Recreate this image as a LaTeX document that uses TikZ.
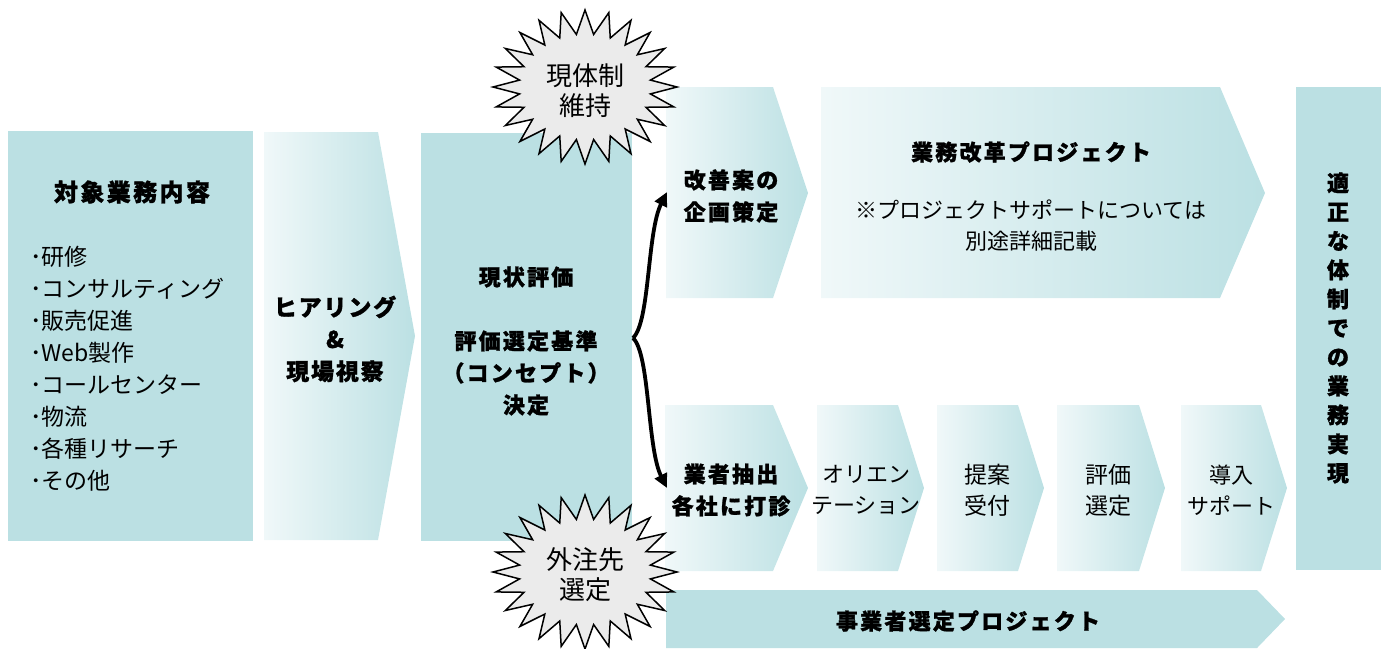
\documentclass[tikz,border=0pt]{standalone}
\usepackage{fontspec}
\newfontfamily\jp{Noto Sans CJK JP}
\usetikzlibrary{arrows.meta}
\definecolor{teal1}{RGB}{187,224,227}
\definecolor{light1}{RGB}{240,248,249}
\definecolor{burstgray}{RGB}{235,235,235}
\begin{document}
\begin{tikzpicture}[x=1pt,y=-1pt,
  solidbox/.style={fill=teal1},
  grad/.style={left color=light1,right color=teal1,shading angle=90},
  bt/.style={font=\jp\bfseries\fontsize{22}{32}\selectfont\addfontfeature{LetterSpace=10,FakeBold=1.2},align=center,inner sep=0pt},
  rt/.style={font=\jp\fontsize{22}{31}\selectfont,align=center,inner sep=0pt},
  burstline/.style={draw=black,line width=1.5pt,fill=burstgray,line join=miter},
  oneconn/.style={line width=3.8pt,-{Triangle[length=14pt,width=13pt]}}]
\useasboundingbox (0,0) rectangle (1381,648);
% left box
\fill[solidbox] (8,131) rectangle (253,541);
\node[bt,font=\jp\bfseries\fontsize{24}{32}\selectfont\addfontfeature{LetterSpace=10,FakeBold=1.2}] (target) at (132,192) {対象業務内容};
\node[rt,align=left,anchor=west,font=\jp\fontsize{23}{32}\selectfont] (list) at (30,368.5)
 {･研修\\･コンサルティング\\･販売促進\\･Web製作\\･コールセンター\\･物流\\･各種リサーチ\\･その他};
% hearing chevron
\shade[grad] (264,132) -- (378,132) -- (415,336) -- (378,540) -- (264,540) -- cycle;
\node[bt,font=\jp\bfseries\fontsize{23}{32}\selectfont\addfontfeature{LetterSpace=8,FakeBold=1.2}] (hearing) at (335,339) {ヒアリング\\\&\\現場視察};
% evaluation box
\fill[solidbox] (421,133) rectangle (632,541);
\node[bt] (eval) at (526,341) {現状評価\\[32pt]評価選定基準\\（コンセプト）\\決定};
% upper chevrons
\shade[grad] (666,87) -- (773,87) -- (808,193) -- (773,298) -- (666,298) -- cycle;
\node[bt] (kaizen) at (731,196) {改善案の\\企画策定};
\shade[grad] (821,87) -- (1220,87) -- (1265,193) -- (1220,298) -- (821,298) -- cycle;
\node[bt] (kaikaku) at (1031,152) {業務改革プロジェクト};
\node[rt] (note) at (1031,226) {※プロジェクトサポートについては\\別途詳細記載};
% right box
\fill[solidbox] (1296,87) rectangle (1381,570);
\node[bt,font=\jp\bfseries\fontsize{22}{29}\selectfont\addfontfeature{FakeBold=1.2}] (goal) at (1338,328)
 {適\\正\\な\\体\\制\\で\\の\\業\\務\\実\\現};
% lower chevrons
\shade[grad] (665,405) -- (773,405) -- (808,488) -- (773,571) -- (665,571) -- cycle;
\node[bt] (gyosha) at (731,490) {業者抽出\\各社に打診};
\shade[grad] (817,405) -- (898,405) -- (924,488) -- (898,571) -- (817,571) -- cycle;
\node[rt] (orien) at (866,490) {オリエン\\テーション};
\shade[grad] (937,405) -- (1018,405) -- (1044,488) -- (1018,571) -- (937,571) -- cycle;
\node[rt,font=\jp\fontsize{23}{31}\selectfont] (teian) at (987,490) {提案\\受付};
\shade[grad] (1057,405) -- (1139,405) -- (1165,488) -- (1139,571) -- (1057,571) -- cycle;
\node[rt,font=\jp\fontsize{23}{31}\selectfont] (hyoka) at (1108,490) {評価\\選定};
\shade[grad] (1181,405) -- (1261,405) -- (1287,488) -- (1261,571) -- (1181,571) -- cycle;
\node[rt] (donyu) at (1231,490) {導入\\サポート};
% bottom chevron
\fill[solidbox] (666,590) -- (1257,590) -- (1285,619) -- (1257,648) -- (666,648) -- cycle;
\node[bt] (jigyosha) at (968,621) {事業者選定プロジェクト};
% bursts
\draw[burstline] plot[samples at={0,7.5,...,352.5}] ({585+(79+13*cos(24*\x))*cos(\x)},{87+(65+12*cos(24*\x))*sin(\x)}) -- cycle;
\node[rt,font=\jp\fontsize{26}{30}\selectfont] (burst1) at (585,91) {現体制\\維持};
\draw[burstline] plot[samples at={0,7.5,...,352.5}] ({585+(79+13*cos(24*\x))*cos(\x)},{572+(65+12*cos(24*\x))*sin(\x)}) -- cycle;
\node[rt,font=\jp\fontsize{26}{30}\selectfont] (burst2) at (585,575) {外注先\\選定};
% connectors
\coordinate (fork) at (633,338);
\coordinate (kaizenIn) at (667,192);
\coordinate (gyoshaIn) at (667,488);
\draw[oneconn] (fork) .. controls (650,322) and (647,232) .. (kaizenIn);
\draw[oneconn] (fork) .. controls (650,354) and (647,448) .. (gyoshaIn);
\end{tikzpicture}
\end{document}
